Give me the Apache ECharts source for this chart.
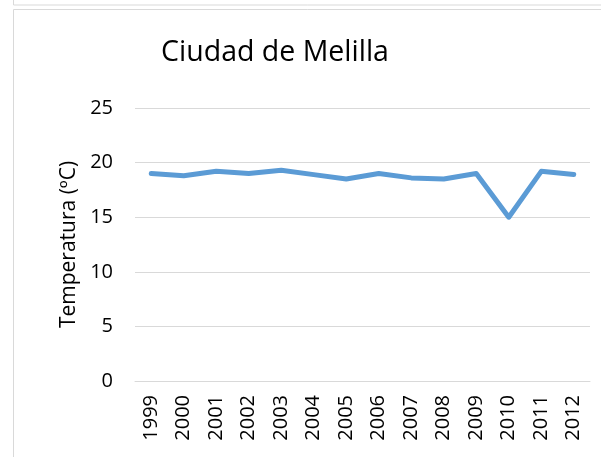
<!DOCTYPE html>
<html>
<head>
<meta charset="utf-8">
<script src="https://cdn.jsdelivr.net/npm/echarts@6/dist/echarts.min.js"></script>
<style>
  html, body { margin: 0; padding: 0; background: #fff; }
  #char { width: 601px; height: 457px; }
</style>
</head>
<body>
<div id="char"></div>
<script>
// categories and values
const years = ['1999', '2000', '2001', '2002', '2003', '2004', '2005', '2006', '2007', '2008', '2009', '2010', '2011', '2012']
const temps = [19.0, 18.8, 19.2, 19.0, 19.3, 18.9, 18.5, 19.0, 18.6, 18.5, 19.0, 15.0, 19.2, 18.9]
const yTicks = [0, 5, 10, 15, 20, 25]

const chart = echarts.init(document.getElementById('char'))
const font = '"Open Sans", "Liberation Sans", sans-serif'

let option = {
  backgroundColor: '#fff',
  animation: false,
  graphic: [
    { type: 'rect', shape: { x: 13.5, y: -10, width: 600, height: 15 }, style: { fill: 'none', stroke: '#d9d9d9', lineWidth: 1 } },
    { type: 'rect', shape: { x: 13.5, y: 9.5, width: 600, height: 460 }, style: { fill: 'none', stroke: '#d9d9d9', lineWidth: 1 } }
  ],
  title: {
    text: 'Ciudad de Melilla',
    left: 270,
    textAlign: 'center',
    top: 33,
    textStyle: { fontFamily: font, fontSize: 28.5, fontWeight: 'normal', color: '#000' }
  },
  grid: { left: 135, right: 11, top: 108, bottom: 76 },
  xAxis: {
    type: 'category',
    data: years,
    boundaryGap: true,
    axisLine: { show: true, lineStyle: { color: '#d9d9d9', width: 1 } },
    axisTick: { show: false },
    axisLabel: { rotate: 90, margin: 14, color: '#000', fontFamily: font, fontSize: 20, interval: 0 }
  },
  yAxis: {
    type: 'value',
    min: yTicks[0],
    max: yTicks[yTicks.length - 1],
    interval: 5,
    name: 'Temperatura (ºC)',
    nameLocation: 'middle',
    nameGap: 54,
    nameTextStyle: { color: '#000', fontFamily: font, fontSize: 21 },
    axisLine: { show: false },
    axisTick: { show: false },
    splitLine: { lineStyle: { color: '#d9d9d9', width: 1 } },
    axisLabel: { margin: 22, color: '#000', fontFamily: font, fontSize: 20 }
  },
  series: [{
    type: 'line',
    data: temps,
    symbol: 'none',
    lineStyle: { color: '#5b9bd5', width: 5, cap: 'round', join: 'round' },
    itemStyle: { color: '#5b9bd5' }
  }]
}
chart.setOption(option)
</script>
</body>
</html>
